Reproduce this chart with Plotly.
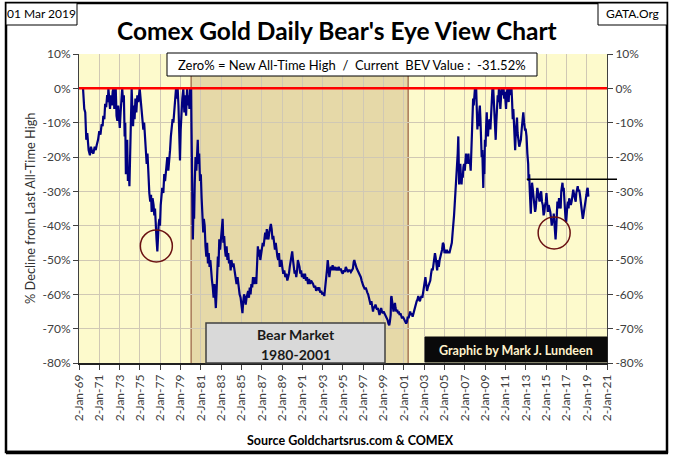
import plotly.graph_objects as go
from datetime import datetime

# ---------------- data ----------------
# Segment 1969 - 1980 : decimal year / % decline from last all-time high
yrs_1969_1980 = [1969.40, 1969.45, 1969.52, 1969.62, 1969.72, 1969.82, 1969.95, 1970.08, 1970.18, 1970.30,
                 1970.42, 1970.55, 1970.65, 1970.75, 1970.88, 1971.00, 1971.12, 1971.23, 1971.33, 1971.40,
                 1971.50, 1971.58, 1971.68, 1971.78, 1971.85, 1971.90, 1971.98, 1972.06, 1972.15, 1972.24,
                 1972.32, 1972.40, 1972.48, 1972.55, 1972.62, 1972.70, 1972.78, 1972.86, 1972.94, 1973.02,
                 1973.10, 1973.18, 1973.26, 1973.34, 1973.42, 1973.50, 1973.56, 1973.62, 1973.68, 1973.75,
                 1973.82, 1973.90, 1973.97, 1974.05, 1974.12, 1974.19, 1974.26, 1974.33, 1974.40, 1974.48,
                 1974.56, 1974.65, 1974.75, 1974.85, 1974.98, 1975.08, 1975.18, 1975.26, 1975.34, 1975.42,
                 1975.50, 1975.58, 1975.67, 1975.75, 1975.83, 1975.93, 1976.02, 1976.10, 1976.16, 1976.25,
                 1976.35, 1976.42, 1976.49, 1976.56, 1976.64, 1976.72, 1976.78, 1976.85, 1976.92, 1976.98,
                 1977.05, 1977.12, 1977.20, 1977.31, 1977.40, 1977.48, 1977.58, 1977.70, 1977.80, 1977.90,
                 1977.97, 1978.05, 1978.13, 1978.22, 1978.30, 1978.40, 1978.50, 1978.56, 1978.65, 1978.72,
                 1978.80, 1978.88, 1978.95, 1979.02, 1979.10, 1979.18, 1979.28, 1979.38, 1979.46, 1979.55,
                 1979.65, 1979.72, 1979.80, 1979.88, 1979.94, 1980.00, 1980.05]
bev_1969_1980 = [0, -4, -6, -7, -15, -13, -18, -19.5, -17, -18.5,
                 -19, -17, -18, -16.5, -15, -12.5, -13.5, -10.5, -11, -8,
                 -9, -4.5, -5.5, -2, -4, 0, -3, -6, -2, -5,
                 -1, 0, -6, -3, 0, -8, -9.5, -5, -10.5, -11.5,
                 -7, -2, 0, -4, -2, -14, -10, -25, -19, -15,
                 -27, -23, -28.5, -18, -8, 0, -6, -11, -5, -9,
                 -3, -7, -2, -4, 0, -4, -7, -10, -12, -10,
                 -15, -18, -22, -19, -27, -30.5, -33, -31, -36, -32,
                 -34, -37, -35, -41, -44, -47.5, -42, -39.5, -38, -40,
                 -34, -31, -29, -30.5, -25, -27, -23, -20, -24, -21,
                 -18, -14, -12, -9, -10, -6, -2, 0, -3, 0,
                 -5, -14, -21, -12, -6, -3, 0, -7, -2, -8,
                 0, -5, -2, -6, 0, 0, 0]

# Segment 1980 - 2003 (the bear market)
yrs_1980_2003 = [1980.08, 1980.12, 1980.17, 1980.22, 1980.28, 1980.34, 1980.40, 1980.48, 1980.56, 1980.64,
                 1980.70, 1980.76, 1980.84, 1980.92, 1981.00, 1981.08, 1981.16, 1981.24, 1981.30, 1981.38,
                 1981.46, 1981.54, 1981.62, 1981.70, 1981.78, 1981.86, 1981.94, 1982.02, 1982.10, 1982.18,
                 1982.26, 1982.34, 1982.42, 1982.48, 1982.54, 1982.62, 1982.68, 1982.74, 1982.82, 1982.90,
                 1982.98, 1983.08, 1983.15, 1983.22, 1983.30, 1983.38, 1983.46, 1983.54, 1983.62, 1983.70,
                 1983.78, 1983.86, 1983.94, 1984.02, 1984.12, 1984.22, 1984.32, 1984.42, 1984.52, 1984.62,
                 1984.72, 1984.82, 1984.92, 1985.02, 1985.10, 1985.18, 1985.26, 1985.34, 1985.42, 1985.50,
                 1985.58, 1985.66, 1985.74, 1985.82, 1985.90, 1985.98, 1986.06, 1986.14, 1986.22, 1986.30,
                 1986.38, 1986.46, 1986.54, 1986.62, 1986.70, 1986.78, 1986.86, 1986.94, 1987.02, 1987.10,
                 1987.18, 1987.26, 1987.34, 1987.42, 1987.50, 1987.58, 1987.66, 1987.74, 1987.82, 1987.90,
                 1987.98, 1988.06, 1988.14, 1988.22, 1988.30, 1988.38, 1988.46, 1988.54, 1988.62, 1988.70,
                 1988.78, 1988.86, 1988.94, 1989.02, 1989.12, 1989.22, 1989.32, 1989.42, 1989.52, 1989.60,
                 1989.68, 1989.76, 1989.84, 1989.92, 1990.00, 1990.08, 1990.16, 1990.24, 1990.32, 1990.40,
                 1990.48, 1990.56, 1990.64, 1990.72, 1990.80, 1990.88, 1990.96, 1991.06, 1991.16, 1991.26,
                 1991.36, 1991.46, 1991.56, 1991.66, 1991.76, 1991.86, 1991.96, 1992.06, 1992.16, 1992.26,
                 1992.36, 1992.46, 1992.56, 1992.66, 1992.76, 1992.86, 1992.96, 1993.06, 1993.16, 1993.26,
                 1993.34, 1993.42, 1993.50, 1993.58, 1993.66, 1993.74, 1993.82, 1993.90, 1993.98, 1994.08,
                 1994.18, 1994.28, 1994.38, 1994.48, 1994.58, 1994.68, 1994.78, 1994.88, 1994.98, 1995.08,
                 1995.18, 1995.28, 1995.38, 1995.48, 1995.58, 1995.68, 1995.78, 1995.88, 1995.98, 1996.06,
                 1996.12, 1996.20, 1996.28, 1996.36, 1996.44, 1996.52, 1996.60, 1996.68, 1996.76, 1996.84,
                 1996.92, 1997.00, 1997.08, 1997.16, 1997.24, 1997.32, 1997.40, 1997.48, 1997.56, 1997.64,
                 1997.72, 1997.80, 1997.88, 1997.96, 1998.04, 1998.12, 1998.20, 1998.28, 1998.36, 1998.44,
                 1998.52, 1998.60, 1998.68, 1998.76, 1998.84, 1998.92, 1999.00, 1999.08, 1999.16, 1999.24,
                 1999.32, 1999.40, 1999.48, 1999.56, 1999.62, 1999.70, 1999.74, 1999.78, 1999.84, 1999.90,
                 1999.98, 2000.06, 2000.12, 2000.18, 2000.26, 2000.34, 2000.42, 2000.50, 2000.58, 2000.66,
                 2000.74, 2000.82, 2000.90, 2000.98, 2001.06, 2001.14, 2001.22, 2001.30, 2001.38, 2001.46,
                 2001.54, 2001.62, 2001.70, 2001.78, 2001.86, 2001.94, 2002.02, 2002.10, 2002.18, 2002.26,
                 2002.34, 2002.42, 2002.50, 2002.58, 2002.66, 2002.74, 2002.82, 2002.90, 2002.98, 2003.06,
                 2003.12, 2003.20, 2003.28, 2003.36, 2003.44, 2003.52, 2003.60, 2003.68, 2003.76, 2003.84,
                 2003.92]
bev_1980_2003 = [-10, -25, -38, -44, -34, -38, -28, -20, -24, -17,
                 -15, -22, -19, -27, -25, -32, -36, -42, -38, -40,
                 -46, -49, -45, -51, -48, -52, -50, -54, -56, -58,
                 -61, -57, -62, -64, -60, -53, -49, -52, -44, -47,
                 -43, -40, -38, -45, -43, -47, -49, -46, -50, -48,
                 -51, -50, -53, -50, -52, -51, -53, -55, -57, -55,
                 -58, -60, -61, -63, -65.5, -62, -60, -61, -63, -61,
                 -60, -59, -61, -58, -60, -57, -58, -55, -57, -56,
                 -55, -57, -52, -46, -49, -47, -50, -48, -47, -45,
                 -46, -43, -42, -44, -41, -43, -44, -42, -40.5, -39.5,
                 -41, -44, -43, -46, -47, -45, -48, -49, -50, -48,
                 -52, -51, -50, -52, -54, -53, -55, -54, -56, -55,
                 -54, -52, -50, -49, -47.5, -50, -52, -54, -53, -55,
                 -53, -50, -51, -52, -54, -53, -55, -54, -55.5, -54,
                 -56, -55, -57, -55.5, -57, -56, -56.5, -57, -58, -57.5,
                 -59, -58, -58.5, -58, -59.5, -59, -60, -59.5, -60.5, -58,
                 -55, -53, -50, -54, -55, -53, -52, -53, -51.5, -53,
                 -52, -53, -52.5, -53, -52, -53, -52.5, -53.5, -54, -53,
                 -53.5, -52, -53, -53.5, -53, -53, -53.5, -53, -52.5, -50.5,
                 -50, -51, -52, -52.5, -53, -53.5, -54, -54.5, -55, -56,
                 -56.5, -57.5, -58, -58.5, -58, -59, -59.5, -60, -61, -62,
                 -63, -62, -63.5, -65, -63.5, -64, -63, -64, -64.5, -64,
                 -65, -66, -65, -64, -65, -65.5, -65, -65.5, -66, -66.5,
                 -67, -67.5, -68.5, -69, -68, -66, -61, -60.5, -62, -64,
                 -65, -64, -62.5, -64, -65, -64.5, -65.5, -65, -66, -65.5,
                 -66, -67, -66.5, -67, -67.5, -68, -68.5, -68, -66.5, -67,
                 -66, -65, -66, -65.5, -66.5, -65.5, -65, -64, -63, -62,
                 -61.5, -60.5, -61.5, -62, -61, -60.5, -61, -59, -58, -56,
                 -55, -57, -59, -58, -57.5, -57, -56, -54, -52.5, -53,
                 -51]

# Segment 2004 - 2019
yrs_2004_2019 = [2004.00, 2004.06, 2004.12, 2004.20, 2004.28, 2004.36, 2004.44, 2004.52, 2004.60, 2004.68,
                 2004.76, 2004.84, 2004.92, 2005.00, 2005.08, 2005.16, 2005.24, 2005.32, 2005.40, 2005.48,
                 2005.56, 2005.64, 2005.72, 2005.80, 2005.88, 2005.94, 2006.00, 2006.06, 2006.12, 2006.18,
                 2006.24, 2006.30, 2006.36, 2006.40, 2006.44, 2006.50, 2006.56, 2006.62, 2006.68, 2006.74,
                 2006.80, 2006.86, 2006.92, 2007.00, 2007.06, 2007.12, 2007.18, 2007.24, 2007.30, 2007.36,
                 2007.42, 2007.50, 2007.58, 2007.64, 2007.70, 2007.76, 2007.82, 2007.88, 2007.94, 2008.00,
                 2008.06, 2008.12, 2008.18, 2008.24, 2008.30, 2008.36, 2008.42, 2008.48, 2008.54, 2008.60,
                 2008.66, 2008.72, 2008.78, 2008.82, 2008.86, 2008.92, 2008.98, 2009.04, 2009.10, 2009.16,
                 2009.22, 2009.28, 2009.36, 2009.44, 2009.52, 2009.60, 2009.66, 2009.72, 2009.80, 2009.86,
                 2009.92, 2009.98, 2010.04, 2010.10, 2010.16, 2010.24, 2010.30, 2010.36, 2010.42, 2010.50,
                 2010.56, 2010.62, 2010.70, 2010.76, 2010.82, 2010.88, 2010.94, 2011.00, 2011.06, 2011.12,
                 2011.20, 2011.26, 2011.32, 2011.38, 2011.46, 2011.54, 2011.60, 2011.66, 2011.72, 2011.78,
                 2011.84, 2011.90, 2011.96, 2012.02, 2012.08, 2012.14, 2012.20, 2012.28, 2012.36, 2012.44,
                 2012.52, 2012.60, 2012.68, 2012.76, 2012.84, 2012.92, 2013.00, 2013.08, 2013.16, 2013.24,
                 2013.28, 2013.34, 2013.40, 2013.46, 2013.50, 2013.56, 2013.62, 2013.68, 2013.76, 2013.84,
                 2013.92, 2013.98, 2014.06, 2014.14, 2014.20, 2014.28, 2014.36, 2014.44, 2014.52, 2014.60,
                 2014.68, 2014.76, 2014.84, 2014.90, 2014.98, 2015.04, 2015.10, 2015.18, 2015.26, 2015.34,
                 2015.42, 2015.50, 2015.56, 2015.62, 2015.70, 2015.76, 2015.82, 2015.88, 2015.94, 2016.00,
                 2016.06, 2016.12, 2016.20, 2016.28, 2016.36, 2016.44, 2016.50, 2016.56, 2016.62, 2016.68,
                 2016.74, 2016.80, 2016.86, 2016.92, 2016.98, 2017.04, 2017.10, 2017.16, 2017.22, 2017.28,
                 2017.36, 2017.44, 2017.52, 2017.60, 2017.68, 2017.76, 2017.84, 2017.92, 2017.98, 2018.06,
                 2018.12, 2018.18, 2018.26, 2018.34, 2018.42, 2018.50, 2018.56, 2018.62, 2018.68, 2018.74,
                 2018.80, 2018.86, 2018.92, 2018.98, 2019.04, 2019.10, 2019.14, 2019.17]
bev_2004_2019 = [-50, -48, -49, -51, -53, -50, -52, -50, -49, -48.5,
                 -47, -45, -45.5, -48, -47, -48, -47, -48, -47.5, -48,
                 -47, -46, -45, -42, -40, -37, -34, -31, -29, -27,
                 -23, -19, -14, -18, -28, -25, -22, -26, -28, -25,
                 -26, -23, -22, -24, -21, -19, -22, -20, -21, -19,
                 -22, -21, -24, -19, -13, -10, -3, -5, -1, 0,
                 -3, 0, -6, -12, -8, -11, -7, -5, -9, -16,
                 -20, -18, -27, -29, -22, -25, -15, -17, -11, -7,
                 -13, -14, -10, -9, -12, -6, -2, 0, 0, -3,
                 -6, -12, -15, -10, -5, -2, -4, 0, -2, -6,
                 -3, 0, 0, -2, 0, -3, -1, -5, -6, -2,
                 0, -1, -4, 0, -2, 0, 0, -4, -9, -6,
                 -11, -15, -18, -13, -10, -8.5, -13, -15, -17, -16,
                 -15, -12, -8, -7, -10, -12, -12, -14, -19, -22,
                 -27, -25, -30, -35, -36.5, -31, -27.5, -29, -32, -33,
                 -36, -35, -31, -29, -30, -32, -33, -31, -30, -33,
                 -34, -37, -36, -34, -33, -30.5, -34, -36, -34, -35,
                 -36, -38, -40, -38.5, -39, -36.5, -40, -42, -44, -41,
                 -37, -33, -35, -32, -33, -35, -30, -28, -27.5, -30,
                 -29, -32, -36, -38, -39, -35.5, -34, -33, -35, -32,
                 -33.5, -34, -33, -31, -29.5, -31, -32.5, -33, -30.5, -29,
                 -28.5, -30, -29.5, -31, -33, -35, -36.5, -38, -37, -36,
                 -35, -34, -32, -31, -29.5, -29, -30.5, -31.52]

# axis ticks / labels
y_tick_vals = [10, 0, -10, -20, -30, -40, -50, -60, -70, -80]
y_tick_text = ["10%", "0%", "-10%", "-20%", "-30%", "-40%", "-50%", "-60%", "-70%", "-80%"]
x_tick_years = [1969, 1971, 1973, 1975, 1977, 1979, 1981, 1983, 1985, 1987, 1989, 1991, 1993, 1995,
                1997, 1999, 2001, 2003, 2005, 2007, 2009, 2011, 2013, 2015, 2017, 2019, 2021]
x_tick_text = ["2-Jan-69", "2-Jan-71", "2-Jan-73", "2-Jan-75", "2-Jan-77", "2-Jan-79", "2-Jan-81",
               "2-Jan-83", "2-Jan-85", "2-Jan-87", "2-Jan-89", "2-Jan-91", "2-Jan-93", "2-Jan-95",
               "2-Jan-97", "2-Jan-99", "2-Jan-01", "2-Jan-03", "2-Jan-05", "2-Jan-07", "2-Jan-09",
               "2-Jan-11", "2-Jan-13", "2-Jan-15", "2-Jan-17", "2-Jan-19", "2-Jan-21"]

# annotations
bear_start, bear_end = 1980.05, 2001.42
circle_marks = [(1976.62, -45.9), (2015.80, -42.1)]
resistance_year, resistance_level = 2013.10, -26.5
current_bev = -31.52


def to_date(y):
    yr = int(y)
    a, b = datetime(yr, 1, 1), datetime(yr + 1, 1, 1)
    return a + (b - a) * (y - yr)


years = yrs_1969_1980 + yrs_1980_2003 + yrs_2004_2019
bev = bev_1969_1980 + bev_1980_2003 + bev_2004_2019
dates = [to_date(y) for y in years]

x_start = datetime(x_tick_years[0], 1, 2)
x_end = datetime(x_tick_years[-1], 1, 2)
x_ticks = [datetime(y, 1, 2) for y in x_tick_years]

# ---------------- layout geometry (pixels) ----------------
W, H = 675, 464
L, R, T, B = 79, 607, 54, 363


def PX(x):
    return (x - L) / (R - L)


def PY(y):
    return (B - y) / (B - T)


FONT = "Lato, 'Open Sans', Arial, sans-serif"
NAVY = "#000080"

fig = go.Figure()
fig.add_trace(go.Scatter(x=dates, y=bev, mode="lines",
                         line=dict(color=NAVY, width=2.2), showlegend=False, hoverinfo="skip"))
# zero line (new all-time high) on the right-hand axis
fig.add_trace(go.Scatter(x=[x_start, x_end], y=[0, 0], mode="lines", yaxis="y2",
                         line=dict(color="#FF0000", width=2.5), showlegend=False, hoverinfo="skip"))

shapes = []
# outer frame
shapes.append(dict(type="rect", xref="paper", yref="paper", x0=PX(6), x1=PX(667), y0=PY(452), y1=PY(3),
                   line=dict(color="black", width=2.5), fillcolor="rgba(0,0,0,0)", layer="below"))
shapes.append(dict(type="line", xref="paper", yref="paper", x0=PX(6), x1=PX(668), y0=PY(452.5), y1=PY(452.5),
                   line=dict(color="black", width=3.5)))
# bear market shading
shapes.append(dict(type="rect", xref="x", yref="paper", x0=to_date(bear_start), x1=to_date(bear_end),
                   y0=0, y1=1, fillcolor="#E6D9A8", line=dict(width=0), layer="below"))
for yb in (bear_start, bear_end):
    shapes.append(dict(type="line", xref="x", yref="paper", x0=to_date(yb), x1=to_date(yb), y0=0, y1=1,
                       line=dict(color="#A87858", width=1.5), layer="between"))
# circles
for cy, cv in circle_marks:
    shapes.append(dict(type="circle", xref="x", yref="y", xsizemode="pixel", ysizemode="pixel",
                       xanchor=to_date(cy), yanchor=cv, x0=-16, x1=16, y0=-16, y1=16,
                       line=dict(color="#6B1212", width=1.5)))
# resistance line
res_frac = (to_date(resistance_year) - x_start) / (x_end - x_start)
shapes.append(dict(type="line", xref="paper", yref="y", x0=res_frac, x1=PX(617),
                   y0=resistance_level, y1=resistance_level, line=dict(color="black", width=1.5)))
# boxes
shapes.append(dict(type="rect", xref="paper", yref="paper", x0=PX(167), x1=PX(537), y0=PY(76), y1=PY(53),
                   fillcolor="white", line=dict(color="black", width=1)))
shapes.append(dict(type="rect", xref="paper", yref="paper", x0=PX(6), x1=PX(77), y0=PY(25), y1=PY(3),
                   fillcolor="white", line=dict(color="black", width=1)))
shapes.append(dict(type="rect", xref="paper", yref="paper", x0=PX(598), x1=PX(667), y0=PY(25), y1=PY(3),
                   fillcolor="white", line=dict(color="black", width=1)))
shapes.append(dict(type="rect", xref="paper", yref="paper", x0=PX(206), x1=PX(385), y0=PY(363), y1=PY(323),
                   fillcolor="#D9D9D9", line=dict(color="#404040", width=1.5)))
shapes.append(dict(type="rect", xref="paper", yref="paper", x0=PX(425), x1=PX(607), y0=PY(362), y1=PY(337),
                   fillcolor="#0A0A0A", line=dict(color="#0A0A0A", width=1)))

ann = []


def text(x, y, s, size, color="black", bold=False, angle=0):
    ann.append(dict(xref="paper", yref="paper", x=PX(x), y=PY(y), text=(f"<b>{s}</b>" if bold else s),
                    showarrow=False, xanchor="center", yanchor="middle", textangle=angle,
                    font=dict(family=FONT, size=size, color=color)))


text(337, 30, "Comex Gold Daily Bear's Eye View Chart", 24.5, bold=True)
text(41.5, 14, "01 Mar 2019", 12)
text(632.5, 14, "GATA.Org", 12)
text(352, 64.5, f"Zero% = New All-Time High  /  Current  BEV Value :  {current_bev:.2f}%", 13)
text(30, 208, "% Decline from Last All-Time High", 12.8, color="#303030", angle=-90)
text(350, 440, "Source Goldchartsrus.com & COMEX", 12.5, bold=True)
text(295.5, 334, "Bear Market", 14, color="#1A1A1A", bold=True)
text(295.5, 354, "1980-2001", 14, color="#1A1A1A", bold=True)
text(516, 350, "Graphic by Mark J. Lundeen", 12.5, color="#FFF2CC", bold=True)

axis_font = dict(family=FONT, size=12, color="#404040")
fig.update_layout(
    width=W, height=H, autosize=False,
    margin=dict(l=L, r=W - R, t=T, b=H - B, pad=0),
    paper_bgcolor="white", plot_bgcolor="#FDFACC",
    shapes=shapes, annotations=ann, showlegend=False,
    xaxis=dict(type="date", range=[x_start, x_end], tickvals=x_ticks, ticktext=x_tick_text,
               tickangle=-90, tickfont=axis_font, ticks="outside", ticklen=5, tickcolor="#404040",
               showgrid=True, gridcolor="#D0C8B4", gridwidth=1, showline=True, linecolor="#202020",
               linewidth=1.5, mirror=False, zeroline=False, fixedrange=True),
    yaxis=dict(range=[-80, 10], tickvals=y_tick_vals, ticktext=y_tick_text, tickfont=axis_font,
               ticks="outside", ticklen=5, tickcolor="#404040", showgrid=True, gridcolor="#D0C8B4",
               gridwidth=1, showline=True, linecolor="#404040", linewidth=1, zeroline=False,
               fixedrange=True),
    yaxis2=dict(range=[-80, 10], tickvals=y_tick_vals, ticktext=y_tick_text, tickfont=axis_font,
                overlaying="y", side="right", ticks="outside", ticklen=5, tickcolor="#404040",
                showgrid=False, showline=True, linecolor="#404040", linewidth=1, zeroline=False,
                fixedrange=True),
)

fig.write_html("out.html", config={"displayModeBar": False},
               post_script="document.body.style.margin='0';document.body.style.overflow='hidden';")
